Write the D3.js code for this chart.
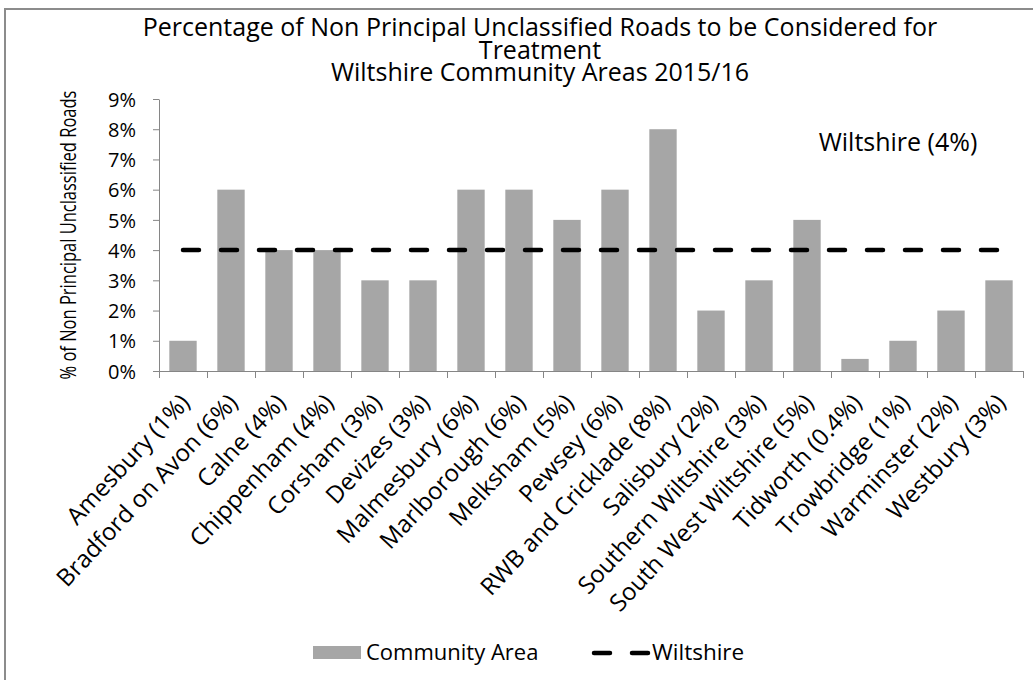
<!DOCTYPE html>
<html>
<head>
<meta charset="utf-8">
<script src="https://cdn.jsdelivr.net/npm/d3@7"></script>
<style>
  html, body { margin: 0; padding: 0; background: #fff; }
  svg { display: block; font-family: "Open Sans", "Noto Sans", sans-serif; }
</style>
</head>
<body>
<svg id="chart" width="1033" height="680"></svg>
<script>
// Community areas and their share of non principal unclassified roads (%)
const areas = [
  "Amesbury (1%)", "Bradford on Avon (6%)", "Calne (4%)", "Chippenham (4%)",
  "Corsham (3%)", "Devizes (3%)", "Malmesbury (6%)", "Marlborough (6%)",
  "Melksham (5%)", "Pewsey (6%)", "RWB and Cricklade (8%)", "Salisbury (2%)",
  "Southern Wiltshire (3%)", "South West Wiltshire (5%)", "Tidworth (0.4%)",
  "Trowbridge (1%)", "Warminster (2%)", "Westbury (3%)"
];
const areaValues = [1, 6, 4, 4, 3, 3, 6, 6, 5, 6, 8, 2, 3, 5, 0.4, 1, 2, 3];
const wiltshireValue = 4;
const yTicks = [0, 1, 2, 3, 4, 5, 6, 7, 8, 9];
const titleLines = [
  "Percentage of Non Principal Unclassified Roads to be Considered for",
  "Treatment",
  "Wiltshire Community Areas 2015/16"
];

const svg = d3.select("#chart");
const plot = { left: 159, right: 1023, top: 99, bottom: 371 };
const axisGrey = "#868686";
const barGrey = "#a6a6a6";

// outer chart frame
svg.append("rect")
  .attr("x", 5).attr("y", 9).attr("width", 1060).attr("height", 700)
  .attr("fill", "#fff").attr("stroke", "#8c8c8c").attr("stroke-width", 2);

const x = d3.scaleBand().domain(areas)
  .range([plot.left, plot.right]).paddingInner(0.43).paddingOuter(0.215);
const y = d3.scaleLinear().domain([0, 9]).range([plot.bottom, plot.top]);

// title
const title = svg.append("text").attr("text-anchor", "middle")
  .attr("font-size", 25).attr("fill", "#000");
titleLines.forEach((t, i) => {
  title.append("tspan").attr("x", 540).attr("y", 36 + i * 22.5).text(t);
});

// bars
svg.append("g").selectAll("rect").data(areas).join("rect")
  .attr("x", d => x(d))
  .attr("y", (d, i) => y(areaValues[i]))
  .attr("width", x.bandwidth())
  .attr("height", (d, i) => y(0) - y(areaValues[i]))
  .attr("fill", barGrey);

// y axis
const yAxis = svg.append("g").attr("transform", `translate(${plot.left},0)`)
  .call(d3.axisLeft(y).tickValues(yTicks).tickFormat(d => d + "%").tickSize(6).tickSizeOuter(0));
yAxis.select(".domain").attr("stroke", axisGrey);
yAxis.selectAll(".tick line").attr("stroke", axisGrey);
yAxis.selectAll(".tick text").attr("font-size", 20).attr("font-family", "Open Sans")
  .attr("fill", "#000").attr("x", -23).attr("dy", "0.36em");

// x axis: tick marks on band boundaries
const xAxis = svg.append("g");
xAxis.append("line")
  .attr("x1", plot.left).attr("x2", plot.right)
  .attr("y1", plot.bottom + 0.5).attr("y2", plot.bottom + 0.5)
  .attr("stroke", axisGrey);
const bounds = areas.map(a => x(a) - x.step() * x.paddingInner() / 2);
bounds.push(plot.right);
xAxis.selectAll("line.tk").data(bounds).join("line").attr("class", "tk")
  .attr("x1", d => Math.round(d) + 0.5).attr("x2", d => Math.round(d) + 0.5)
  .attr("y1", plot.bottom).attr("y2", plot.bottom + 7)
  .attr("stroke", axisGrey);
xAxis.selectAll("text").data(areas).join("text")
  .attr("transform", d => `translate(${x(d) + x.bandwidth() / 2 + 2},${plot.bottom + 27}) rotate(-47)`)
  .attr("text-anchor", "end")
  .attr("dy", "0.35em")
  .attr("font-size", 24)
  .attr("fill", "#000")
  .text(d => d);

// y axis title (condensed along its length)
svg.append("text")
  .attr("transform", `translate(76,${(plot.top + plot.bottom) / 2}) rotate(-90) scale(0.75,1)`)
  .attr("text-anchor", "middle").attr("font-size", 22).attr("fill", "#000")
  .text("% of Non Principal Unclassified Roads");

// Wiltshire average line
const first = areas[0], last = areas[areas.length - 1];
const line = d3.line().x(d => d[0]).y(d => d[1]);
svg.append("path")
  .attr("d", line([[x(first) + x.bandwidth() / 2, y(wiltshireValue)],
                   [x(last) + x.bandwidth() / 2, y(wiltshireValue)]]))
  .attr("stroke", "#000").attr("stroke-width", 4.5)
  .attr("stroke-dasharray", "16 22").attr("stroke-linecap", "round").attr("fill", "none");

// annotation
svg.append("text").attr("x", 898).attr("y", 151).attr("text-anchor", "middle")
  .attr("font-size", 25).attr("fill", "#000").text("Wiltshire (" + wiltshireValue + "%)");

// legend
const lg = svg.append("g");
lg.append("rect").attr("x", 313).attr("y", 646).attr("width", 48).attr("height", 13).attr("fill", barGrey);
lg.append("text").attr("x", 366).attr("y", 660).attr("font-size", 22).attr("fill", "#000").text("Community Area");
lg.append("path").attr("d", line([[594, 653], [650, 653]]))
  .attr("stroke", "#000").attr("stroke-width", 4.5)
  .attr("stroke-dasharray", "16 22").attr("stroke-linecap", "round");
lg.append("text").attr("x", 652).attr("y", 660).attr("font-size", 22.5).attr("fill", "#000").text("Wiltshire");
</script>
</body>
</html>
